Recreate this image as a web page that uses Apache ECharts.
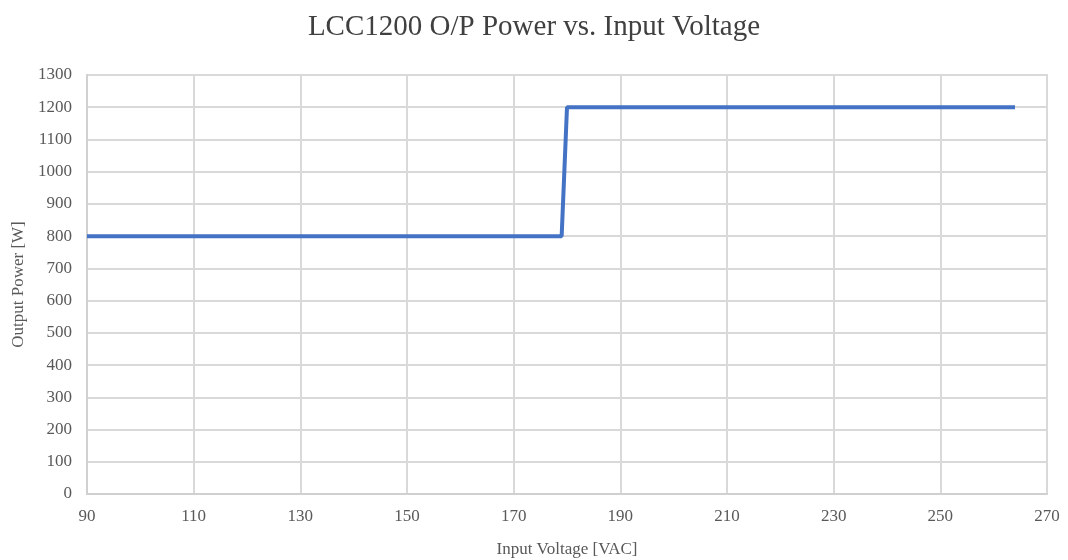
<!DOCTYPE html>
<html><head><meta charset="utf-8">
<script src="https://cdn.jsdelivr.net/npm/echarts@6/dist/echarts.min.js"></script>
<style>html,body{margin:0;padding:0;background:#fff}#c{width:1068px;height:560px}</style>
</head><body><div id="c"></div>
<script>
const title = 'LCC1200 O/P Power vs. Input Voltage';
const xName = 'Input Voltage [VAC]';
const yName = 'Output Power [W]';
const voltage = [90, 179, 180, 264];
const power = [800, 800, 1200, 1200];
const chart = echarts.init(document.getElementById('c'));
const font = 'Liberation Serif';
chart.setOption({
  backgroundColor: '#fff',
  title: {text: title, left: 'center', top: 8, textStyle: {fontFamily: font, fontSize: 29, fontWeight: 'normal', color: '#404040'}},
  grid: {left: 87, right: 21, top: 75, bottom: 66, show: true, borderColor: '#d9d9d9', borderWidth: 2,
    containLabel: false, outerBoundsMode: 'none'},
  xAxis: {type: 'value', min: 90, max: 270, interval: 20,
    name: xName, nameLocation: 'middle', nameGap: 47,
    nameTextStyle: {fontFamily: font, fontSize: 17, color: '#595959'},
    axisLine: {lineStyle: {color: '#d0d0d0', width: 2}}, axisTick: {show: false},
    axisLabel: {fontFamily: font, fontSize: 17, color: '#595959', margin: 14},
    splitLine: {lineStyle: {color: '#d9d9d9', width: 2}}},
  yAxis: {type: 'value', min: 0, max: 1300, interval: 100,
    name: yName, nameLocation: 'middle', nameGap: 60,
    nameTextStyle: {fontFamily: font, fontSize: 17, color: '#595959'},
    axisLine: {show: true, lineStyle: {color: '#d0d0d0', width: 2}}, axisTick: {show: false},
    axisLabel: {fontFamily: font, fontSize: 17, color: '#595959', margin: 15, formatter: v => String(v)},
    splitLine: {lineStyle: {color: '#d9d9d9', width: 2}}},
  series: [{type: 'line', data: voltage.map((v, i) => [v, power[i]]), showSymbol: false,
    lineStyle: {color: '#4472C4', width: 4}, animation: false}]
});
</script></body></html>
